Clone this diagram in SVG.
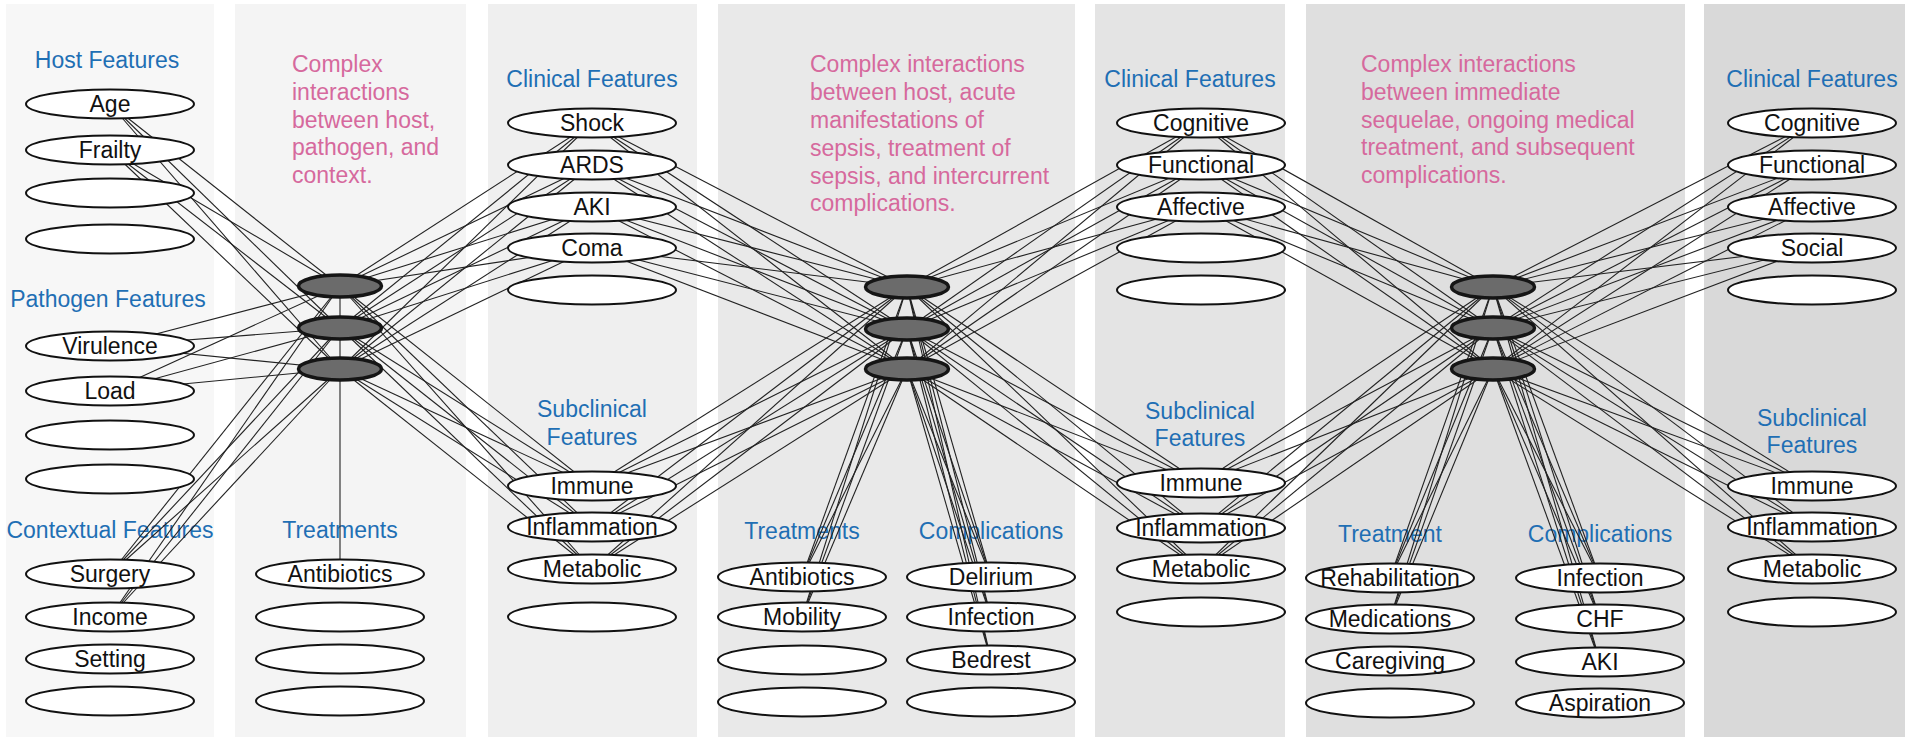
<svg xmlns="http://www.w3.org/2000/svg" width="1905" height="737" viewBox="0 0 1905 737">
<style>
.bg{stroke:none}
.lbl{font-family:"Liberation Sans",Arial,Helvetica,sans-serif;font-size:23px;fill:#1f6fb4;text-anchor:middle}
.pink{font-family:"Liberation Sans",Arial,Helvetica,sans-serif;font-size:23px;fill:#d6699d}
.node ellipse{fill:#fff;stroke:#111;stroke-width:2}
.node text{font-family:"Liberation Sans",Arial,Helvetica,sans-serif;font-size:23px;fill:#111;text-anchor:middle}
.hub ellipse{fill:#6b6b6b;stroke:#151515;stroke-width:3.5}
#edges line{stroke:#222;stroke-width:1.1;fill:none}
</style>

<rect width="1905" height="737" fill="#fff"/>
<g id="panels" class="bg">
<rect x="6" y="4" width="208" height="733" fill="#f7f7f7"/>
<rect x="235" y="4" width="231" height="733" fill="#f4f4f4"/>
<rect x="488" y="4" width="209" height="733" fill="#efefef"/>
<rect x="718" y="4" width="357" height="733" fill="#e9e9e9"/>
<rect x="1095" y="4" width="190" height="733" fill="#e4e4e4"/>
<rect x="1306" y="4" width="379" height="733" fill="#dfdfdf"/>
<rect x="1704" y="4" width="201" height="733" fill="#d9d9d9"/>
</g>

<g id="labels">
<text class="lbl" x="107" y="68">Host Features</text>
<text class="lbl" x="108" y="307">Pathogen Features</text>
<text class="lbl" x="110" y="538">Contextual Features</text>
<text class="lbl" x="340" y="538">Treatments</text>
<text class="lbl" x="592" y="87">Clinical Features</text>
<text class="lbl" x="592" y="417">Subclinical</text>
<text class="lbl" x="592" y="445">Features</text>
<text class="lbl" x="802" y="539">Treatments</text>
<text class="lbl" x="991" y="539">Complications</text>
<text class="lbl" x="1190" y="87">Clinical Features</text>
<text class="lbl" x="1200" y="419">Subclinical</text>
<text class="lbl" x="1200" y="446">Features</text>
<text class="lbl" x="1390" y="542">Treatment</text>
<text class="lbl" x="1600" y="542">Complications</text>
<text class="lbl" x="1812" y="87">Clinical Features</text>
<text class="lbl" x="1812" y="426">Subclinical</text>
<text class="lbl" x="1812" y="453">Features</text>
<text class="pink" x="292" y="72">Complex</text>
<text class="pink" x="292" y="100">interactions</text>
<text class="pink" x="292" y="128">between host,</text>
<text class="pink" x="292" y="155">pathogen, and</text>
<text class="pink" x="292" y="183">context.</text>
<text class="pink" x="810" y="72">Complex interactions</text>
<text class="pink" x="810" y="100">between host, acute</text>
<text class="pink" x="810" y="128">manifestations of</text>
<text class="pink" x="810" y="156">sepsis, treatment of</text>
<text class="pink" x="810" y="184">sepsis, and intercurrent</text>
<text class="pink" x="810" y="211">complications.</text>
<text class="pink" x="1361" y="72">Complex interactions</text>
<text class="pink" x="1361" y="100">between immediate</text>
<text class="pink" x="1361" y="128">sequelae, ongoing medical</text>
<text class="pink" x="1361" y="155">treatment, and subsequent</text>
<text class="pink" x="1361" y="183">complications.</text>
</g>

<g id="edges">
<line x1="110" y1="104" x2="340" y2="286"/><line x1="110" y1="104" x2="340" y2="328"/><line x1="110" y1="104" x2="340" y2="369"/>
<line x1="110" y1="150" x2="340" y2="286"/><line x1="110" y1="150" x2="340" y2="328"/><line x1="110" y1="150" x2="340" y2="369"/>
<line x1="110" y1="346" x2="340" y2="286"/><line x1="110" y1="346" x2="340" y2="328"/><line x1="110" y1="346" x2="340" y2="369"/>
<line x1="110" y1="391" x2="340" y2="286"/><line x1="110" y1="391" x2="340" y2="328"/><line x1="110" y1="391" x2="340" y2="369"/>
<line x1="110" y1="574" x2="340" y2="286"/><line x1="110" y1="574" x2="340" y2="328"/><line x1="110" y1="574" x2="340" y2="369"/>
<line x1="110" y1="617" x2="340" y2="286"/><line x1="110" y1="617" x2="340" y2="328"/><line x1="110" y1="617" x2="340" y2="369"/>
<line x1="340" y1="574" x2="340" y2="286"/>

<line x1="592" y1="123" x2="340" y2="286"/><line x1="592" y1="123" x2="340" y2="328"/><line x1="592" y1="123" x2="340" y2="369"/><line x1="592" y1="123" x2="907" y2="287"/><line x1="592" y1="123" x2="907" y2="329"/><line x1="592" y1="123" x2="907" y2="369"/>
<line x1="592" y1="165" x2="340" y2="286"/><line x1="592" y1="165" x2="340" y2="328"/><line x1="592" y1="165" x2="340" y2="369"/><line x1="592" y1="165" x2="907" y2="287"/><line x1="592" y1="165" x2="907" y2="329"/><line x1="592" y1="165" x2="907" y2="369"/>
<line x1="592" y1="207" x2="340" y2="286"/><line x1="592" y1="207" x2="340" y2="328"/><line x1="592" y1="207" x2="340" y2="369"/><line x1="592" y1="207" x2="907" y2="287"/><line x1="592" y1="207" x2="907" y2="329"/><line x1="592" y1="207" x2="907" y2="369"/>
<line x1="592" y1="248" x2="340" y2="286"/><line x1="592" y1="248" x2="340" y2="328"/><line x1="592" y1="248" x2="340" y2="369"/><line x1="592" y1="248" x2="907" y2="287"/><line x1="592" y1="248" x2="907" y2="329"/><line x1="592" y1="248" x2="907" y2="369"/>
<line x1="592" y1="486" x2="340" y2="286"/><line x1="592" y1="486" x2="340" y2="328"/><line x1="592" y1="486" x2="340" y2="369"/><line x1="592" y1="486" x2="907" y2="287"/><line x1="592" y1="486" x2="907" y2="329"/><line x1="592" y1="486" x2="907" y2="369"/>
<line x1="592" y1="527" x2="340" y2="286"/><line x1="592" y1="527" x2="340" y2="328"/><line x1="592" y1="527" x2="340" y2="369"/><line x1="592" y1="527" x2="907" y2="287"/><line x1="592" y1="527" x2="907" y2="329"/><line x1="592" y1="527" x2="907" y2="369"/>
<line x1="592" y1="569" x2="340" y2="286"/><line x1="592" y1="569" x2="340" y2="328"/><line x1="592" y1="569" x2="340" y2="369"/><line x1="592" y1="569" x2="907" y2="287"/><line x1="592" y1="569" x2="907" y2="329"/><line x1="592" y1="569" x2="907" y2="369"/>

<line x1="802" y1="577" x2="907" y2="287"/><line x1="802" y1="577" x2="907" y2="329"/><line x1="802" y1="577" x2="907" y2="369"/>
<line x1="802" y1="617" x2="907" y2="287"/><line x1="802" y1="617" x2="907" y2="329"/><line x1="802" y1="617" x2="907" y2="369"/>
<line x1="991" y1="577" x2="907" y2="287"/><line x1="991" y1="577" x2="907" y2="329"/><line x1="991" y1="577" x2="907" y2="369"/>
<line x1="991" y1="617" x2="907" y2="287"/><line x1="991" y1="617" x2="907" y2="329"/><line x1="991" y1="617" x2="907" y2="369"/>
<line x1="991" y1="660" x2="907" y2="287"/><line x1="991" y1="660" x2="907" y2="329"/><line x1="991" y1="660" x2="907" y2="369"/>

<line x1="1201" y1="123" x2="907" y2="287"/><line x1="1201" y1="123" x2="907" y2="329"/><line x1="1201" y1="123" x2="907" y2="369"/><line x1="1201" y1="123" x2="1493" y2="287"/><line x1="1201" y1="123" x2="1493" y2="328"/><line x1="1201" y1="123" x2="1493" y2="369"/>
<line x1="1201" y1="165" x2="907" y2="287"/><line x1="1201" y1="165" x2="907" y2="329"/><line x1="1201" y1="165" x2="907" y2="369"/><line x1="1201" y1="165" x2="1493" y2="287"/><line x1="1201" y1="165" x2="1493" y2="328"/><line x1="1201" y1="165" x2="1493" y2="369"/>
<line x1="1201" y1="207" x2="907" y2="287"/><line x1="1201" y1="207" x2="907" y2="329"/><line x1="1201" y1="207" x2="907" y2="369"/><line x1="1201" y1="207" x2="1493" y2="287"/><line x1="1201" y1="207" x2="1493" y2="328"/><line x1="1201" y1="207" x2="1493" y2="369"/>
<line x1="1201" y1="483" x2="907" y2="287"/><line x1="1201" y1="483" x2="907" y2="329"/><line x1="1201" y1="483" x2="907" y2="369"/><line x1="1201" y1="483" x2="1493" y2="287"/><line x1="1201" y1="483" x2="1493" y2="328"/><line x1="1201" y1="483" x2="1493" y2="369"/>
<line x1="1201" y1="528" x2="907" y2="287"/><line x1="1201" y1="528" x2="907" y2="329"/><line x1="1201" y1="528" x2="907" y2="369"/><line x1="1201" y1="528" x2="1493" y2="287"/><line x1="1201" y1="528" x2="1493" y2="328"/><line x1="1201" y1="528" x2="1493" y2="369"/>
<line x1="1201" y1="569" x2="907" y2="287"/><line x1="1201" y1="569" x2="907" y2="329"/><line x1="1201" y1="569" x2="907" y2="369"/><line x1="1201" y1="569" x2="1493" y2="287"/><line x1="1201" y1="569" x2="1493" y2="328"/><line x1="1201" y1="569" x2="1493" y2="369"/>

<line x1="1390" y1="578" x2="1493" y2="287"/><line x1="1390" y1="578" x2="1493" y2="328"/><line x1="1390" y1="578" x2="1493" y2="369"/>
<line x1="1390" y1="619" x2="1493" y2="287"/><line x1="1390" y1="619" x2="1493" y2="328"/><line x1="1390" y1="619" x2="1493" y2="369"/>
<line x1="1600" y1="578" x2="1493" y2="287"/><line x1="1600" y1="578" x2="1493" y2="328"/><line x1="1600" y1="578" x2="1493" y2="369"/>
<line x1="1600" y1="619" x2="1493" y2="287"/><line x1="1600" y1="619" x2="1493" y2="328"/><line x1="1600" y1="619" x2="1493" y2="369"/>
<line x1="1600" y1="662" x2="1493" y2="287"/><line x1="1600" y1="662" x2="1493" y2="328"/><line x1="1600" y1="662" x2="1493" y2="369"/>

<line x1="1812" y1="123" x2="1493" y2="287"/><line x1="1812" y1="123" x2="1493" y2="328"/><line x1="1812" y1="123" x2="1493" y2="369"/>
<line x1="1812" y1="165" x2="1493" y2="287"/><line x1="1812" y1="165" x2="1493" y2="328"/><line x1="1812" y1="165" x2="1493" y2="369"/>
<line x1="1812" y1="207" x2="1493" y2="287"/><line x1="1812" y1="207" x2="1493" y2="328"/><line x1="1812" y1="207" x2="1493" y2="369"/>
<line x1="1812" y1="248" x2="1493" y2="287"/><line x1="1812" y1="248" x2="1493" y2="328"/><line x1="1812" y1="248" x2="1493" y2="369"/>
<line x1="1812" y1="486" x2="1493" y2="287"/><line x1="1812" y1="486" x2="1493" y2="328"/><line x1="1812" y1="486" x2="1493" y2="369"/>
<line x1="1812" y1="527" x2="1493" y2="287"/><line x1="1812" y1="527" x2="1493" y2="328"/><line x1="1812" y1="527" x2="1493" y2="369"/>
<line x1="1812" y1="569" x2="1493" y2="287"/><line x1="1812" y1="569" x2="1493" y2="328"/><line x1="1812" y1="569" x2="1493" y2="369"/>
</g>

<g id="nodes">
<g id="n-age" class="node"><ellipse cx="110" cy="104" rx="84" ry="14.5"/><text x="110" y="112">Age</text></g>
<g id="n-frailty" class="node"><ellipse cx="110" cy="150" rx="84" ry="14.5"/><text x="110" y="158">Frailty</text></g>
<g id="n-p1-e1" class="node"><ellipse cx="110" cy="193" rx="84" ry="14.5"/></g>
<g id="n-p1-e2" class="node"><ellipse cx="110" cy="239" rx="84" ry="14.5"/></g>
<g id="n-virulence" class="node"><ellipse cx="110" cy="346" rx="84" ry="14.5"/><text x="110" y="354">Virulence</text></g>
<g id="n-load" class="node"><ellipse cx="110" cy="391" rx="84" ry="14.5"/><text x="110" y="399">Load</text></g>
<g id="n-p1-e3" class="node"><ellipse cx="110" cy="435" rx="84" ry="14.5"/></g>
<g id="n-p1-e4" class="node"><ellipse cx="110" cy="479" rx="84" ry="14.5"/></g>
<g id="n-surgery" class="node"><ellipse cx="110" cy="574" rx="84" ry="14.5"/><text x="110" y="582">Surgery</text></g>
<g id="n-income" class="node"><ellipse cx="110" cy="617" rx="84" ry="14.5"/><text x="110" y="625">Income</text></g>
<g id="n-setting" class="node"><ellipse cx="110" cy="659" rx="84" ry="14.5"/><text x="110" y="667">Setting</text></g>
<g id="n-p1-e5" class="node"><ellipse cx="110" cy="701" rx="84" ry="14.5"/></g>

<g id="n-p2-antibiotics" class="node"><ellipse cx="340" cy="574" rx="84" ry="14.5"/><text x="340" y="582">Antibiotics</text></g>
<g id="n-p2-e1" class="node"><ellipse cx="340" cy="617" rx="84" ry="14.5"/></g>
<g id="n-p2-e2" class="node"><ellipse cx="340" cy="659" rx="84" ry="14.5"/></g>
<g id="n-p2-e3" class="node"><ellipse cx="340" cy="701" rx="84" ry="14.5"/></g>

<g id="n-p3-shock" class="node"><ellipse cx="592" cy="123" rx="84" ry="14.5"/><text x="592" y="131">Shock</text></g>
<g id="n-p3-ards" class="node"><ellipse cx="592" cy="165" rx="84" ry="14.5"/><text x="592" y="173">ARDS</text></g>
<g id="n-p3-aki" class="node"><ellipse cx="592" cy="207" rx="84" ry="14.5"/><text x="592" y="215">AKI</text></g>
<g id="n-p3-coma" class="node"><ellipse cx="592" cy="248" rx="84" ry="14.5"/><text x="592" y="256">Coma</text></g>
<g id="n-p3-e1" class="node"><ellipse cx="592" cy="290" rx="84" ry="14.5"/></g>
<g id="n-p3-immune" class="node"><ellipse cx="592" cy="486" rx="84" ry="14.5"/><text x="592" y="494">Immune</text></g>
<g id="n-p3-inflammation" class="node"><ellipse cx="592" cy="527" rx="84" ry="14.5"/><text x="592" y="535">Inflammation</text></g>
<g id="n-p3-metabolic" class="node"><ellipse cx="592" cy="569" rx="84" ry="14.5"/><text x="592" y="577">Metabolic</text></g>
<g id="n-p3-e2" class="node"><ellipse cx="592" cy="617" rx="84" ry="14.5"/></g>

<g id="n-p4-antibiotics" class="node"><ellipse cx="802" cy="577" rx="84" ry="14.5"/><text x="802" y="585">Antibiotics</text></g>
<g id="n-p4-mobility" class="node"><ellipse cx="802" cy="617" rx="84" ry="14.5"/><text x="802" y="625">Mobility</text></g>
<g id="n-p4-e1" class="node"><ellipse cx="802" cy="660" rx="84" ry="14.5"/></g>
<g id="n-p4-e2" class="node"><ellipse cx="802" cy="702" rx="84" ry="14.5"/></g>
<g id="n-p4-delirium" class="node"><ellipse cx="991" cy="577" rx="84" ry="14.5"/><text x="991" y="585">Delirium</text></g>
<g id="n-p4-infection" class="node"><ellipse cx="991" cy="617" rx="84" ry="14.5"/><text x="991" y="625">Infection</text></g>
<g id="n-p4-bedrest" class="node"><ellipse cx="991" cy="660" rx="84" ry="14.5"/><text x="991" y="668">Bedrest</text></g>
<g id="n-p4-e3" class="node"><ellipse cx="991" cy="702" rx="84" ry="14.5"/></g>

<g id="n-p5-cognitive" class="node"><ellipse cx="1201" cy="123" rx="84" ry="14.5"/><text x="1201" y="131">Cognitive</text></g>
<g id="n-p5-functional" class="node"><ellipse cx="1201" cy="165" rx="84" ry="14.5"/><text x="1201" y="173">Functional</text></g>
<g id="n-p5-affective" class="node"><ellipse cx="1201" cy="207" rx="84" ry="14.5"/><text x="1201" y="215">Affective</text></g>
<g id="n-p5-e1" class="node"><ellipse cx="1201" cy="248" rx="84" ry="14.5"/></g>
<g id="n-p5-e2" class="node"><ellipse cx="1201" cy="290" rx="84" ry="14.5"/></g>
<g id="n-p5-immune" class="node"><ellipse cx="1201" cy="483" rx="84" ry="14.5"/><text x="1201" y="491">Immune</text></g>
<g id="n-p5-inflammation" class="node"><ellipse cx="1201" cy="528" rx="84" ry="14.5"/><text x="1201" y="536">Inflammation</text></g>
<g id="n-p5-metabolic" class="node"><ellipse cx="1201" cy="569" rx="84" ry="14.5"/><text x="1201" y="577">Metabolic</text></g>
<g id="n-p5-e3" class="node"><ellipse cx="1201" cy="612" rx="84" ry="14.5"/></g>

<g id="n-p6-rehabilitation" class="node"><ellipse cx="1390" cy="578" rx="84" ry="14.5"/><text x="1390" y="586">Rehabilitation</text></g>
<g id="n-p6-medications" class="node"><ellipse cx="1390" cy="619" rx="84" ry="14.5"/><text x="1390" y="627">Medications</text></g>
<g id="n-p6-caregiving" class="node"><ellipse cx="1390" cy="661" rx="84" ry="14.5"/><text x="1390" y="669">Caregiving</text></g>
<g id="n-p6-e1" class="node"><ellipse cx="1390" cy="703" rx="84" ry="14.5"/></g>
<g id="n-p6-infection" class="node"><ellipse cx="1600" cy="578" rx="84" ry="14.5"/><text x="1600" y="586">Infection</text></g>
<g id="n-p6-chf" class="node"><ellipse cx="1600" cy="619" rx="84" ry="14.5"/><text x="1600" y="627">CHF</text></g>
<g id="n-p6-aki" class="node"><ellipse cx="1600" cy="662" rx="84" ry="14.5"/><text x="1600" y="670">AKI</text></g>
<g id="n-p6-aspiration" class="node"><ellipse cx="1600" cy="703" rx="84" ry="14.5"/><text x="1600" y="711">Aspiration</text></g>

<g id="n-p7-cognitive" class="node"><ellipse cx="1812" cy="123" rx="84" ry="14.5"/><text x="1812" y="131">Cognitive</text></g>
<g id="n-p7-functional" class="node"><ellipse cx="1812" cy="165" rx="84" ry="14.5"/><text x="1812" y="173">Functional</text></g>
<g id="n-p7-affective" class="node"><ellipse cx="1812" cy="207" rx="84" ry="14.5"/><text x="1812" y="215">Affective</text></g>
<g id="n-p7-social" class="node"><ellipse cx="1812" cy="248" rx="84" ry="14.5"/><text x="1812" y="256">Social</text></g>
<g id="n-p7-e1" class="node"><ellipse cx="1812" cy="290" rx="84" ry="14.5"/></g>
<g id="n-p7-immune" class="node"><ellipse cx="1812" cy="486" rx="84" ry="14.5"/><text x="1812" y="494">Immune</text></g>
<g id="n-p7-inflammation" class="node"><ellipse cx="1812" cy="527" rx="84" ry="14.5"/><text x="1812" y="535">Inflammation</text></g>
<g id="n-p7-metabolic" class="node"><ellipse cx="1812" cy="569" rx="84" ry="14.5"/><text x="1812" y="577">Metabolic</text></g>
<g id="n-p7-e2" class="node"><ellipse cx="1812" cy="612" rx="84" ry="14.5"/></g>

<g id="hub1a" class="hub"><ellipse cx="340" cy="286" rx="41.5" ry="11"/></g>
<g id="hub1b" class="hub"><ellipse cx="340" cy="328" rx="41.5" ry="11"/></g>
<g id="hub1c" class="hub"><ellipse cx="340" cy="369" rx="41.5" ry="11"/></g>
<g id="hub2a" class="hub"><ellipse cx="907" cy="287" rx="41.5" ry="11"/></g>
<g id="hub2b" class="hub"><ellipse cx="907" cy="329" rx="41.5" ry="11"/></g>
<g id="hub2c" class="hub"><ellipse cx="907" cy="369" rx="41.5" ry="11"/></g>
<g id="hub3a" class="hub"><ellipse cx="1493" cy="287" rx="41.5" ry="11"/></g>
<g id="hub3b" class="hub"><ellipse cx="1493" cy="328" rx="41.5" ry="11"/></g>
<g id="hub3c" class="hub"><ellipse cx="1493" cy="369" rx="41.5" ry="11"/></g>
</g>
</svg>
